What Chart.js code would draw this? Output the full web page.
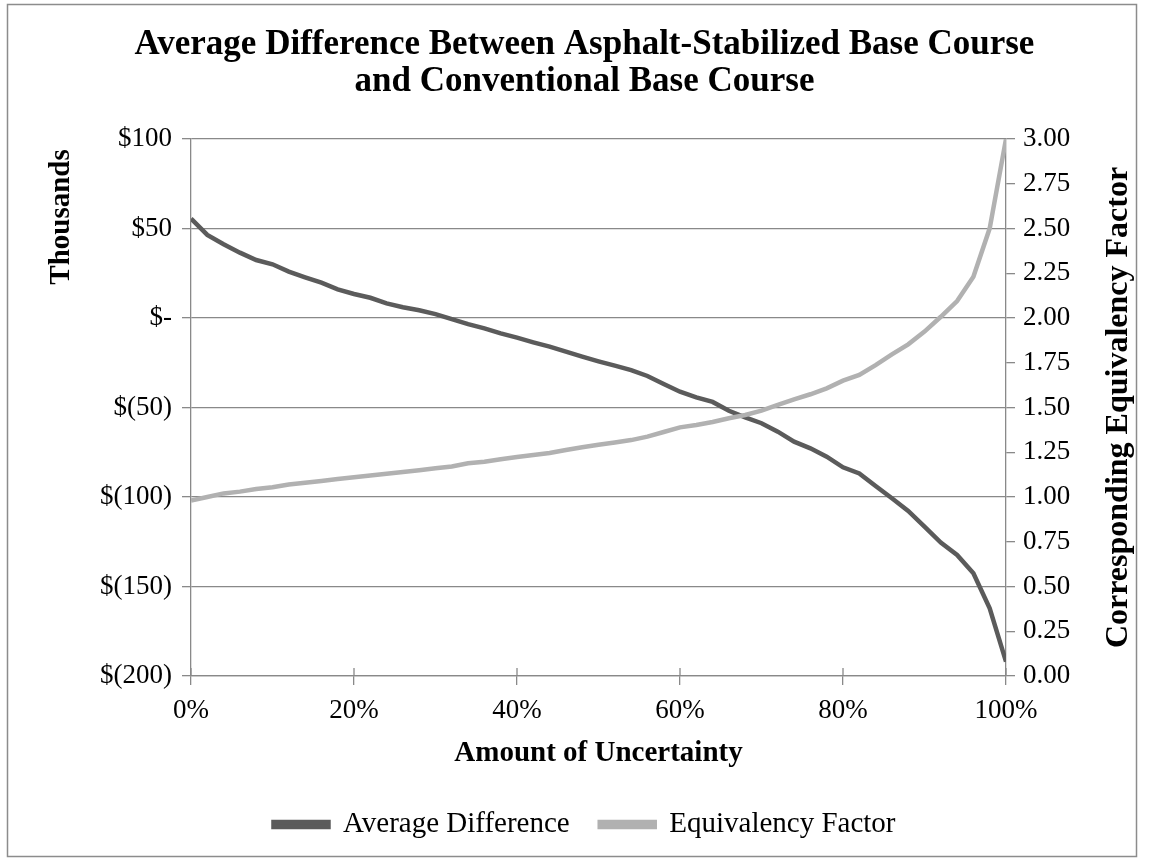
<!DOCTYPE html>
<html>
<head>
<meta charset="utf-8">
<title>Average Difference Between Asphalt-Stabilized Base Course and Conventional Base Course</title>
<script src="https://cdn.jsdelivr.net/npm/chart.js@4.4.1/dist/chart.umd.min.js"></script>
<style>
  html, body { margin: 0; padding: 0; background: #fff; }
  canvas { display: block; }
</style>
</head>
<body>
<canvas id="costChart" width="1153" height="861"></canvas>
<script>
// amount of uncertainty (%)
const uncertainty = [
  0, 2, 4, 6, 8, 10, 12, 14, 16, 18, 20, 22, 24, 26, 28, 30, 32, 34, 36, 38, 40,
  42, 44, 46, 48, 50, 52, 54, 56, 58, 60, 62, 64, 66, 68, 70, 72, 74, 76, 78, 80,
  82, 84, 86, 88, 90, 92, 94, 96, 98, 100
];

// average difference in thousands of dollars
const avgDifference = [
  55.5, 46.4, 41.2, 36.5, 32.4, 30.0, 25.9, 22.7, 19.7, 16.0, 13.4,
  11.3, 8.2, 6.0, 4.3, 2.2, -0.6, -3.4, -5.8, -8.6, -11.0,
  -13.6, -16.0, -18.8, -21.6, -24.2, -26.6, -29.1, -32.4, -36.9, -41.2,
  -44.3, -46.9, -51.8, -55.5, -58.8, -63.5, -69.1, -72.8, -77.5, -83.4,
  -86.8, -93.9, -100.7, -107.8, -116.6, -125.5, -132.4, -142.6, -162.2, -192.0
];

// corresponding equivalency factor
const equivFactor = [
  0.98, 1.00, 1.02, 1.03, 1.045, 1.055, 1.07, 1.08, 1.09, 1.10, 1.11,
  1.12, 1.13, 1.14, 1.15, 1.16, 1.17, 1.188, 1.197, 1.211, 1.223,
  1.235, 1.246, 1.263, 1.278, 1.292, 1.305, 1.318, 1.337, 1.363, 1.389,
  1.402, 1.419, 1.44, 1.458, 1.482, 1.514, 1.546, 1.574, 1.607, 1.650,
  1.682, 1.737, 1.797, 1.853, 1.924, 2.007, 2.095, 2.231, 2.501, 3.00
];

const dollarTickValues = [100, 50, 0, -50, -100, -150, -200];
const dollarTickLabels = ['$100', '$50', '$-', '$(50)', '$(100)', '$(150)', '$(200)'];

const SERIF = "'Liberation Serif', 'Times New Roman', serif";
const GRID = '#898989';
const DARK = '#5b5b5b';
const LIGHT = '#b1b1b1';

Chart.defaults.color = '#000';
Chart.defaults.font.family = SERIF;

function drawVerticalText(ctx, text, x, y, size) {
  ctx.save();
  ctx.translate(x, y);
  ctx.rotate(-Math.PI / 2);
  ctx.fillStyle = '#000';
  ctx.font = 'bold ' + size + 'px ' + SERIF;
  ctx.textAlign = 'center';
  ctx.textBaseline = 'middle';
  ctx.fillText(text, 0, 0);
  ctx.restore();
}

// frame around the whole chart, upper half of the crossing x ticks, axis titles
const framePlugin = {
  id: 'frame',
  beforeDraw(chart) {
    const ctx = chart.ctx;
    ctx.save();
    ctx.fillStyle = '#fff';
    ctx.fillRect(0, 0, chart.width, chart.height);
    ctx.strokeStyle = '#8c8c8c';
    ctx.lineWidth = 1.5;
    ctx.strokeRect(7.5, 4.5, 1129, 852);
    ctx.restore();
  },
  afterDraw(chart) {
    const ctx = chart.ctx;
    const x = chart.scales.x;
    ctx.save();
    ctx.strokeStyle = GRID;
    ctx.lineWidth = 1.3;
    x.ticks.forEach(t => {
      const px = x.getPixelForValue(t.value);
      ctx.beginPath();
      ctx.moveTo(px, x.top - 8);
      ctx.lineTo(px, x.top);
      ctx.stroke();
    });
    ctx.restore();

    const area = chart.chartArea;
    // display-units label sits near the top of the primary axis
    drawVerticalText(ctx, 'Thousands', 62, area.top + 78, 29);
    // secondary axis title reads bottom-to-top
    drawVerticalText(ctx, 'Corresponding Equivalency Factor', 1119, (area.top + area.bottom) / 2, 32);
  }
};

const ctx = document.getElementById('costChart').getContext('2d');
const costChart = new Chart(ctx, {
  type: 'line',
  data: {
    datasets: [
      {
        label: 'Average Difference',
        data: uncertainty.map((u, i) => ({ x: u, y: avgDifference[i] })),
        yAxisID: 'y',
        borderColor: DARK,
        backgroundColor: DARK,
        borderWidth: 4.5,
        pointRadius: 0,
        tension: 0,
        order: 1
      },
      {
        label: 'Equivalency Factor',
        data: uncertainty.map((u, i) => ({ x: u, y: equivFactor[i] })),
        yAxisID: 'y2',
        borderColor: LIGHT,
        backgroundColor: LIGHT,
        borderWidth: 4.5,
        pointRadius: 0,
        tension: 0,
        order: 0
      }
    ]
  },
  options: {
    responsive: false,
    animation: false,
    devicePixelRatio: 1,
    layout: { padding: { left: 16, right: 0, top: 0, bottom: 12 } },
    plugins: {
      title: {
        display: true,
        text: [
          'Average Difference Between Asphalt-Stabilized Base Course',
          'and Conventional Base Course'
        ],
        font: { family: SERIF, size: 35, weight: 'bold', lineHeight: 37 / 35 },
        padding: { top: 26, bottom: 39 }
      },
      legend: {
        position: 'bottom',
        labels: {
          font: { family: SERIF, size: 29 },
          boxWidth: 55,
          boxHeight: 5,
          padding: 30,
          sort: (a, b) => a.datasetIndex - b.datasetIndex
        }
      },
      tooltip: { enabled: false }
    },
    scales: {
      x: {
        type: 'linear',
        min: 0,
        max: 100,
        ticks: {
          stepSize: 20,
          padding: 10,
          font: { family: SERIF, size: 27 },
          callback: v => v + '%'
        },
        grid: { drawOnChartArea: false, color: GRID, lineWidth: 1.3, tickLength: 9 },
        border: { color: GRID, width: 1.3 },
        title: {
          display: true,
          text: 'Amount of Uncertainty',
          font: { family: SERIF, size: 29, weight: 'bold' },
          padding: { top: 0, bottom: 9 }
        },
        afterFit: s => { s.height = 104; }
      },
      y: {
        position: 'left',
        min: -200,
        max: 100,
        afterBuildTicks: s => { s.ticks = dollarTickValues.map(v => ({ value: v })); },
        ticks: {
          padding: 10,
          font: { family: SERIF, size: 27 },
          callback: v => dollarTickLabels[dollarTickValues.indexOf(v)]
        },
        grid: { color: GRID, lineWidth: 1.3, tickLength: 9 },
        border: { color: GRID, width: 1.3 },
        afterFit: s => { s.width = 175; }
      },
      y2: {
        position: 'right',
        min: 0,
        max: 3,
        ticks: {
          stepSize: 0.25,
          padding: 8,
          font: { family: SERIF, size: 27 },
          callback: v => v.toFixed(2)
        },
        grid: { drawOnChartArea: false, color: GRID, lineWidth: 1.3, tickLength: 9 },
        border: { color: GRID, width: 1.3 },
        afterFit: s => { s.width = 147; }
      }
    }
  },
  plugins: [framePlugin]
});
</script>
</body>
</html>
